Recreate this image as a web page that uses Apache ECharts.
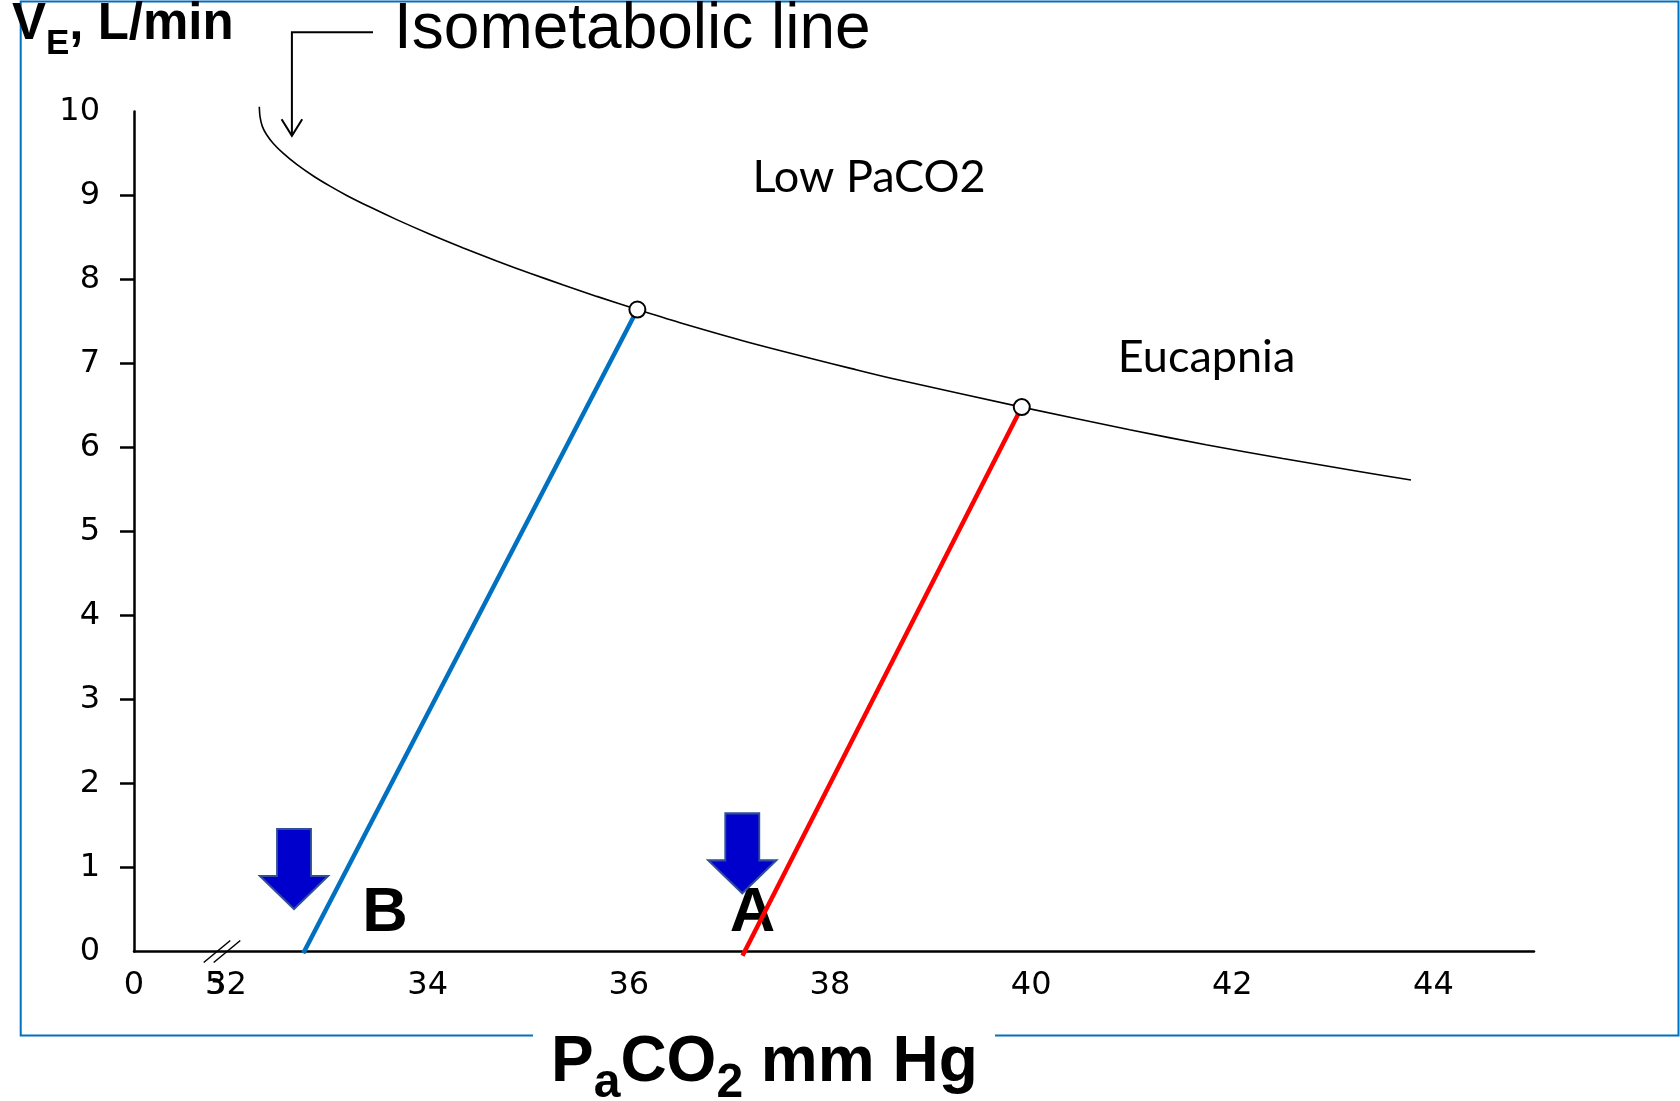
<!DOCTYPE html>
<html>
<head>
<meta charset="utf-8">
<script src="https://cdn.jsdelivr.net/npm/echarts@6/dist/echarts.min.js"></script>
<style>
html,body{margin:0;padding:0;background:#fff;}
#chart{width:1680px;height:1101px;}
</style>
</head>
<body>
<div id="chart"></div>
<script>
// ---- data ----
const X_TICK_VALUES = [31.08, 31.886, 32, 34, 36, 38, 40, 42, 44];
const X_TICK_LABELS = ['0', '5', '32', '34', '36', '38', '40', '42', '44'];
const Y_TICK_VALUES = [0, 1, 2, 3, 4, 5, 6, 7, 8, 9, 10];
const Y_TICK_MARKS  = [1, 2, 3, 4, 5, 6, 7, 8, 9];

// isometabolic line (PaCO2 mm Hg, VE L/min)
const ISOMETABOLIC = [
  [32.326, 10.057], [32.333, 9.940], [32.356, 9.823], [32.399, 9.723], [32.465, 9.620],
  [32.565, 9.501], [32.698, 9.370], [32.863, 9.232], [33.029, 9.111], [33.195, 9.001],
  [33.427, 8.862], [33.692, 8.713], [34.023, 8.539], [34.354, 8.376], [34.686, 8.221],
  [35.017, 8.075], [35.349, 7.935], [35.681, 7.799], [36.085, 7.642], [36.509, 7.485],
  [37.205, 7.248], [38.269, 6.923], [38.697, 6.800], [39.907, 6.481], [40.980, 6.211],
  [41.739, 6.033], [42.502, 5.869], [43.261, 5.714], [43.777, 5.613]
];
const LINE_B = [[32.763, -0.02], [36.085, 7.642]];
const LINE_A = [[37.13, -0.05], [39.907, 6.481]];
const OPEN_POINTS = [[36.085, 7.642], [39.907, 6.481]];
const DOWN_ARROWS = [[32.671, 0.982], [37.128, 1.168]];
const POINT_LETTERS = [['B', 33.576, 0.45], ['A', 37.23, 0.45]];
const REGION_NAMES = [['Low PaCO2', 38.388, 9.22], ['Eucapnia', 41.744, 7.077]];
const BREAK_AT = 31.955;

const chart = echarts.init(document.getElementById('chart'), null, {renderer: 'canvas'});

const ARROW_PATH = 'path://M17,0L51,0L51,47L68,47L34,80L0,47L17,47Z';
const SANS = '"Liberation Sans", Arial, sans-serif';

const option = {
  animation: false,
  backgroundColor: '#ffffff',
  grid: {
    left: 134, right: 146, top: 111.5, bottom: 149.5,
    containLabel: false, outerBoundsMode: 'none'
  },
  xAxis: {
    type: 'value',
    min: 31.08, max: 45,
    axisLine: {show: true, onZero: false, lineStyle: {color: '#000', width: 2.5}},
    axisTick: {show: false},
    splitLine: {show: false},
    axisLabel: {
      customValues: X_TICK_VALUES,
      hideOverlap: false,
      showMinLabel: true, showMaxLabel: true,
      formatter: function (v) {
        const i = X_TICK_VALUES.findIndex(t => Math.abs(t - v) < 1e-6);
        return i >= 0 ? X_TICK_LABELS[i] : '';
      },
      fontFamily: '"DejaVu Sans", sans-serif',
      fontSize: 32, color: '#000', margin: 18
    }
  },
  yAxis: {
    type: 'value',
    min: 0, max: 10, interval: 1,
    axisLine: {show: true, onZero: false, lineStyle: {color: '#000', width: 2.5}},
    axisTick: {show: true, inside: false, length: 14, customValues: Y_TICK_MARKS,
      lineStyle: {color: '#000', width: 2.5}},
    splitLine: {show: false},
    axisLabel: {
      customValues: Y_TICK_VALUES,
      hideOverlap: false,
      fontFamily: '"DejaVu Sans", sans-serif',
      fontSize: 32, color: '#000', margin: 34
    }
  },
  series: [
    {
      name: 'Isometabolic line', type: 'line', data: ISOMETABOLIC,
      smooth: 0.3, showSymbol: false, symbol: 'none', clip: false,
      lineStyle: {color: '#000', width: 1.6}, z: 3
    },
    {
      name: 'B', type: 'line', data: LINE_B, showSymbol: false, symbol: 'none', clip: false,
      lineStyle: {color: '#0070C0', width: 4.5}, z: 4
    },
    {
      name: 'A', type: 'line', data: LINE_A, showSymbol: false, symbol: 'none', clip: false,
      lineStyle: {color: '#FF0000', width: 4.5}, z: 4
    },
    {
      name: 'points', type: 'scatter', data: OPEN_POINTS, symbol: 'circle', symbolSize: 16,
      itemStyle: {color: '#fff', borderColor: '#000', borderWidth: 2, opacity: 1}, z: 5
    },
    {
      name: 'arrows', type: 'scatter',
      data: DOWN_ARROWS.map(p => ({value: p})),
      symbol: ARROW_PATH, symbolSize: [68, 80], symbolKeepAspect: false, clip: false,
      itemStyle: {color: '#0000CC', borderColor: '#2F4F9A', borderWidth: 2, opacity: 1}, z: 6
    },
    {
      name: 'letters', type: 'scatter',
      data: POINT_LETTERS.map(d => ({name: d[0], value: [d[1], d[2]]})),
      symbol: 'circle', symbolSize: 1, itemStyle: {color: 'rgba(0,0,0,0)', opacity: 1}, z: 2,
      label: {show: true, position: 'inside', formatter: '{b}', color: '#000', opacity: 1,
        fontFamily: SANS, fontWeight: 'bold', fontSize: 63}
    },
    {
      name: 'regions', type: 'scatter',
      data: REGION_NAMES.map(d => ({name: d[0], value: [d[1], d[2]]})),
      symbol: 'circle', symbolSize: 1, itemStyle: {color: 'rgba(0,0,0,0)', opacity: 1}, z: 2,
      label: {show: true, position: 'inside', formatter: '{b}', color: '#000', opacity: 1,
        fontFamily: 'Lato, Carlito, sans-serif', fontWeight: 'normal', fontSize: 45}
    }
  ]
};
chart.setOption(option);

// ---- text placement helpers (measure with canvas, draw with ECharts graphic text) ----
const mctx = document.createElement('canvas').getContext('2d');
function metrics(font, text) {
  mctx.font = font;
  mctx.textBaseline = 'middle';
  const m = mctx.measureText(text);
  const h = mctx.measureText('H');
  return {width: m.width, down: h.actualBoundingBoxDescent, left: m.actualBoundingBoxLeft};
}
function textRun(startLeft, pieces) {
  const out = [];
  let x = null;
  pieces.forEach(p => {
    const m = metrics(p.font, p.text);
    if (x === null) x = startLeft + m.left;
    out.push({
      type: 'text', z: 20, silent: true, x: x, y: p.baseline - m.down,
      style: {text: p.text, font: p.font, fill: '#000', align: 'left', verticalAlign: 'middle'}
    });
    x += m.width;
  });
  return out;
}

const bp = chart.convertToPixel({gridIndex: 0}, [BREAK_AT, 0]);
const slash = (dx) => ({
  type: 'line', z: 20, silent: true,
  shape: {x1: bp[0] + dx - 13.3, y1: bp[1] + 11, x2: bp[0] + dx + 13.3, y2: bp[1] - 11},
  style: {stroke: '#000', lineWidth: 1.5}
});
const tipPx = chart.convertToPixel({gridIndex: 0}, [32.65, 9.71]);

const fTitle = '64px ' + SANS;
const fYMain = 'bold 51px ' + SANS;
const fYSub = 'bold 35px ' + SANS;
const fXMain = 'bold 64px ' + SANS;
const fXSub = 'bold 48px "Liberation Sans Narrow", "Arial Narrow", ' + SANS;

const graphics = [
  {
    type: 'polyline', z: 1, silent: true,
    shape: {points: [[533, 1035.5], [20.7, 1035.5], [20.7, 1.5], [1678.5, 1.5], [1678.5, 1035.5], [995, 1035.5]]},
    style: {stroke: '#0070C0', lineWidth: 2, fill: null}
  },
  {
    type: 'polyline', z: 20, silent: true,
    shape: {points: [[373, 32.2], [tipPx[0], 32.2], [tipPx[0], tipPx[1]]]},
    style: {stroke: '#000', lineWidth: 2, fill: null}
  },
  {
    type: 'polyline', z: 20, silent: true,
    shape: {points: [[tipPx[0] - 10.3, tipPx[1] - 16.7], [tipPx[0], tipPx[1]], [tipPx[0] + 10.3, tipPx[1] - 16.7]]},
    style: {stroke: '#000', lineWidth: 2, fill: null}
  },
  slash(-5),
  slash(5)
]
.concat(textRun(399, [{text: 'Isometabolic line', font: fTitle, baseline: 48.3}]))
.concat(textRun(12, [
  {text: 'V', font: fYMain, baseline: 38.5},
  {text: 'E', font: fYSub, baseline: 54},
  {text: ', L/min', font: fYMain, baseline: 38.5}
]))
.concat(textRun(555, [
  {text: 'P', font: fXMain, baseline: 1080.5},
  {text: 'a', font: fXSub, baseline: 1097},
  {text: 'CO', font: fXMain, baseline: 1080.5},
  {text: '2', font: fXSub, baseline: 1097},
  {text: ' mm Hg', font: fXMain, baseline: 1080.5}
]));

chart.setOption({graphic: graphics});
</script>
</body>
</html>
